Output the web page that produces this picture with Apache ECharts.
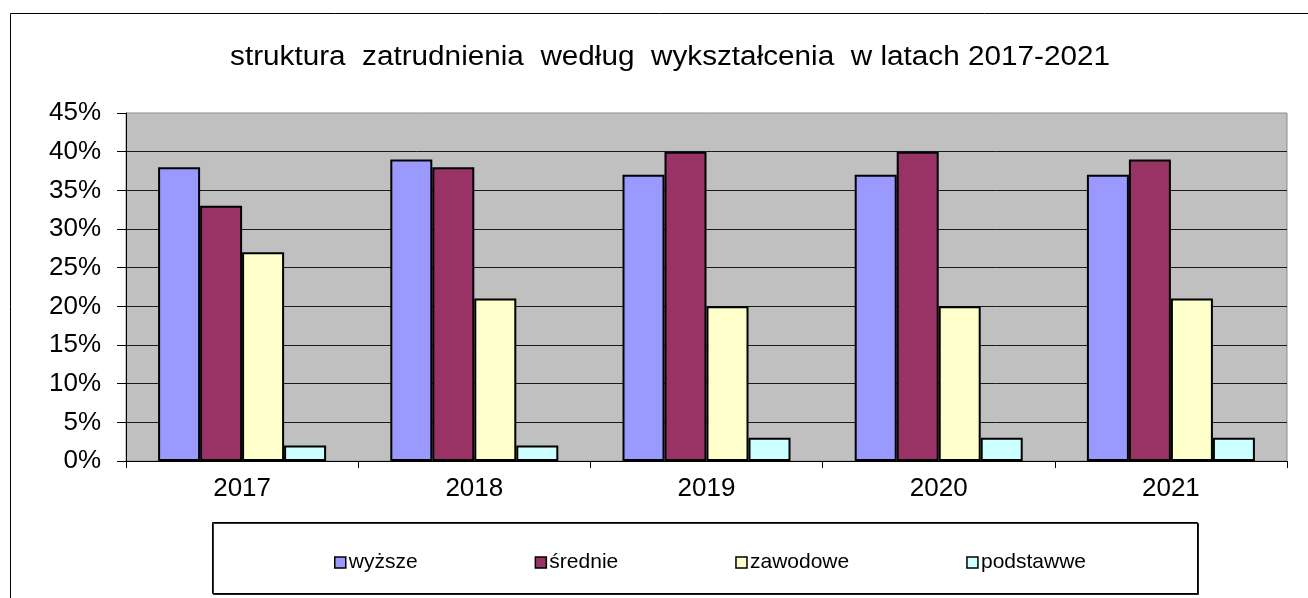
<!DOCTYPE html>
<html>
<head>
<meta charset="utf-8">
<script src="https://cdn.jsdelivr.net/npm/echarts@6/dist/echarts.min.js"></script>
<style>
html,body{margin:0;padding:0;background:#fff;}
#chart{width:1308px;height:598px;}
</style>
</head>
<body>
<div id="chart"></div>
<script>
const titleText = 'struktura  zatrudnienia  według  wykształcenia  w latach 2017-2021';
const categories = ['2017', '2018', '2019', '2020', '2021'];
const seriesNames = ['wyższe', 'średnie', 'zawodowe', 'podstawwe'];
const wyzsze = [38, 39, 37, 37, 37];
const srednie = [33, 38, 40, 40, 39];
const zawodowe = [27, 21, 20, 20, 21];
const podstawowe = [2, 2, 3, 3, 3];
const seriesColors = ['#9999FF', '#993366', '#FFFFCC', '#CCFFFF'];
const yMax = 45;
const yStep = 5;

const seriesData = [wyzsze, srednie, zawodowe, podstawowe];
const FONT = '"Liberation Sans", Arial, sans-serif';

const chart = echarts.init(document.getElementById('chart'), null, {renderer: 'canvas'});
chart.setOption({
  animation: false,
  backgroundColor: '#ffffff',
  graphic: [
    {type: 'rect', z: -10, shape: {x: 10.5, y: 13.5, width: 1400, height: 700},
     style: {fill: '#ffffff', stroke: '#000', lineWidth: 1}},
    {type: 'rect', z: -5, shape: {x: 212.5, y: 522.5, width: 985, height: 71},
     style: {fill: '#ffffff', stroke: '#000', lineWidth: 1,
             shadowColor: 'rgba(0,0,0,0.8)', shadowOffsetX: 1, shadowOffsetY: 1}},
    {type: 'text', x: 670, y: 58, scaleX: 1.1, scaleY: 1,
     style: {text: titleText, fill: '#000', font: '27px ' + FONT,
             textAlign: 'center', textVerticalAlign: 'middle'}}
  ],
  legend: {
    data: seriesNames,
    left: 329,
    top: 547,
    itemWidth: 11,
    itemHeight: 11,
    itemGap: 117,
    selectedMode: false,
    icon: 'rect',
    textStyle: {fontFamily: FONT, fontSize: 21, color: '#000', padding: [0, 0, 0, -2]},
    itemStyle: {borderColor: '#000', borderWidth: 1.5}
  },
  grid: {
    left: 126, right: 21, top: 113, bottom: 137,
    show: true, backgroundColor: '#C0C0C0', borderColor: '#8c8c8c', borderWidth: 1,
    containLabel: false
  },
  xAxis: {
    type: 'category',
    data: categories,
    boundaryGap: true,
    axisLine: {lineStyle: {color: '#000', width: 1}},
    axisTick: {show: true, length: 7, alignWithLabel: false, lineStyle: {color: '#000'}},
    axisLabel: {fontFamily: FONT, fontSize: 26, color: '#000', margin: 15},
    splitLine: {show: false}
  },
  yAxis: {
    type: 'value',
    min: 0, max: yMax, interval: yStep,
    axisLine: {show: true, lineStyle: {color: '#000', width: 1}},
    axisTick: {show: true, length: 9, inside: false, lineStyle: {color: '#000'}},
    axisLabel: {fontFamily: FONT, fontSize: 26, color: '#000', margin: 25, formatter: '{value}%'},
    splitLine: {show: true, showMaxLine: false, lineStyle: {color: '#1a1a1a', width: 1}}
  },
  series: seriesNames.map((name, i) => ({
    name: name,
    type: 'bar',
    data: seriesData[i],
    barWidth: 42,
    barGap: '0%',
    itemStyle: {color: seriesColors[i], borderColor: '#000', borderWidth: 2}
  }))
});
</script>
</body>
</html>
